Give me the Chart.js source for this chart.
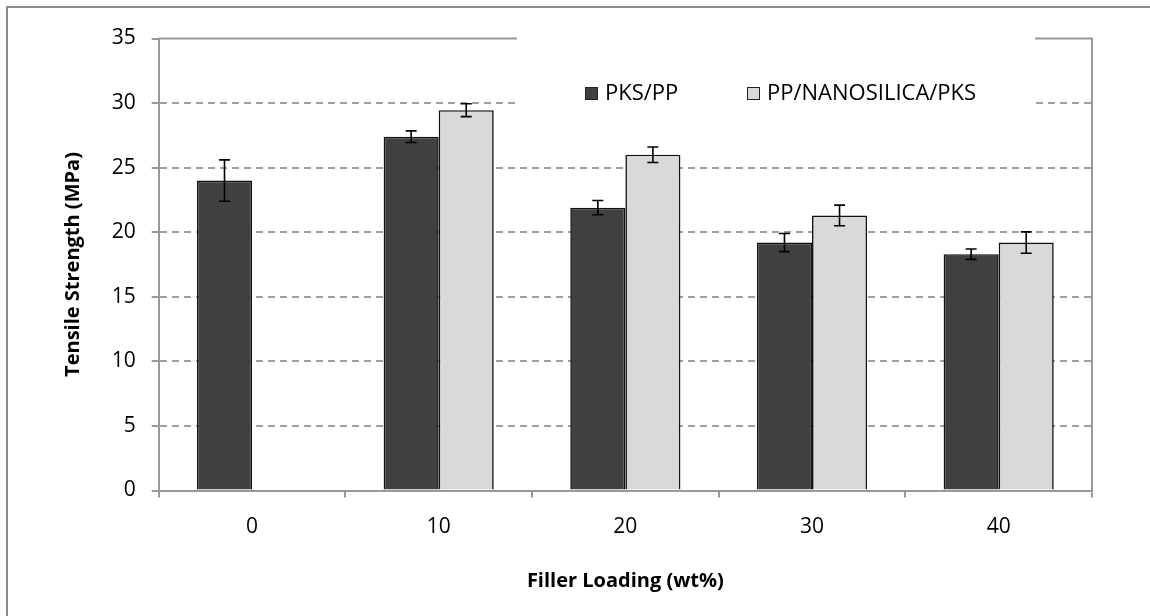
<!DOCTYPE html>
<html>
<head>
<meta charset="utf-8">
<script src="https://cdn.jsdelivr.net/npm/chart.js@4.4.0/dist/chart.umd.min.js"></script>
<style>
  html, body { margin: 0; padding: 0; background: #fff; }
  #wrap { width: 1150px; height: 616px; }
</style>
</head>
<body>
<div id="wrap"><canvas id="chart" width="1150" height="616"></canvas></div>
<script>
// filler loading (wt%)
const categories = ["0", "10", "20", "30", "40"];
// tensile strength (MPa)
const pksPP = [24.0, 27.4, 21.9, 19.2, 18.3];
const pksPPErr = [1.6, 0.45, 0.55, 0.7, 0.4];
const nanoPKS = [null, 29.45, 26.0, 21.3, 19.2];
const nanoPKSErr = [null, 0.5, 0.6, 0.8, 0.83];
const yTicks = [0, 5, 10, 15, 20, 25, 30, 35];

const errors = [pksPPErr, nanoPKSErr];

const frame = {
  id: "frame",
  beforeDraw(chart) {
    const ctx = chart.ctx;
    ctx.save();
    ctx.fillStyle = "#fff";
    ctx.fillRect(0, 0, chart.width, chart.height);
    ctx.strokeStyle = "#8c8c8c";
    ctx.lineWidth = 2;
    ctx.beginPath();
    ctx.moveTo(7, chart.height);
    ctx.lineTo(7, 7);
    ctx.lineTo(chart.width, 7);
    ctx.stroke();
    ctx.restore();
  },
  beforeDatasetsDraw(chart) {
    const ctx = chart.ctx;
    const a = chart.chartArea;
    ctx.save();
    // solid top and right edges of the plot area
    ctx.strokeStyle = "#999";
    ctx.lineWidth = 2;
    ctx.beginPath();
    ctx.moveTo(a.left, a.top);
    ctx.lineTo(a.right, a.top);
    ctx.lineTo(a.right, a.bottom);
    ctx.stroke();

    // legend box
    ctx.fillStyle = "#fff";
    ctx.fillRect(517, 28, 518, 98);
    const items = chart.data.datasets;
    const xs = [585, 747];
    ctx.font = "22px 'Open Sans'";
    ctx.textBaseline = "middle";
    items.forEach((ds, i) => {
      ctx.fillStyle = ds.backgroundColor;
      ctx.fillRect(xs[i], 87, 13, 13);
      ctx.strokeStyle = "#222";
      ctx.lineWidth = 1;
      ctx.strokeRect(xs[i] + 0.5, 87.5, 12, 12);
      ctx.fillStyle = "#000";
      ctx.fillText(ds.label, xs[i] + 20, 94);
    });
    ctx.restore();
  },
  afterDatasetsDraw(chart) {
    const ctx = chart.ctx;
    const y = chart.scales.y;
    ctx.save();
    ctx.strokeStyle = "#000";
    ctx.lineWidth = 1.6;
    chart.data.datasets.forEach((ds, i) => {
      const meta = chart.getDatasetMeta(i);
      meta.data.forEach((bar, j) => {
        const v = ds.data[j];
        const e = errors[i][j];
        if (v == null || e == null) return;
        const top = y.getPixelForValue(v + e);
        const bot = y.getPixelForValue(v - e);
        ctx.beginPath();
        ctx.moveTo(bar.x, top);
        ctx.lineTo(bar.x, bot);
        ctx.moveTo(bar.x - 5.5, top);
        ctx.lineTo(bar.x + 5.5, top);
        ctx.moveTo(bar.x - 5.5, bot);
        ctx.lineTo(bar.x + 5.5, bot);
        ctx.stroke();
      });
    });
    ctx.restore();
  },
};

new Chart(document.getElementById("chart").getContext("2d"), {
  type: "bar",
  data: {
    labels: categories,
    datasets: [
      {
        label: "PKS/PP",
        data: pksPP,
        backgroundColor: "#404040",
        borderColor: "#111",
        borderWidth: 1.6,
      },
      {
        label: "PP/NANOSILICA/PKS",
        data: nanoPKS,
        backgroundColor: "#d9d9d9",
        borderColor: "#111",
        borderWidth: 1.6,
      },
    ],
  },
  options: {
    responsive: false,
    animation: false,
    layout: { padding: { left: 0, top: 38.5, right: 58, bottom: 0 } },
    datasets: { bar: { categoryPercentage: 0.59, barPercentage: 1.0 } },
    plugins: { legend: { display: false }, tooltip: { enabled: false } },
    scales: {
      x: {
        offset: true,
        grid: {
          offset: true,
          drawOnChartArea: false,
          drawTicks: true,
          tickLength: 7,
          color: "#999",
          lineWidth: 2,
        },
        border: { color: "#999", width: 2 },
        ticks: {
          color: "#000",
          padding: 17,
          font: { family: "'Open Sans'", size: 21 },
        },
        title: {
          display: true,
          text: "Filler Loading (wt%)",
          color: "#000",
          font: { family: "'Open Sans'", size: 20, weight: "bold" },
          padding: { top: 0, bottom: 23 },
        },
        afterFit(scale) {
          scale.height = 125.5;
        },
      },
      y: {
        min: 0,
        max: 35,
        afterBuildTicks(scale) {
          scale.ticks = yTicks.map((v) => ({ value: v }));
        },
        grid: {
          color: (c) => (c.tick && c.tick.value === 35 ? "rgba(0,0,0,0)" : "#a0a0a0"),
          tickColor: "#999",
          lineWidth: 2,
          tickLength: 7,
          tickBorderDash: [],
        },
        border: { color: "#999", width: 2, dash: [7, 5] },
        ticks: {
          color: "#000",
          padding: 16,
          font: { family: "'Open Sans'", size: 21 },
        },
        title: {
          display: true,
          text: "Tensile Strength (MPa)",
          color: "#000",
          font: { family: "'Open Sans'", size: 20, weight: "bold" },
          padding: { top: 61, bottom: 0 },
        },
        afterFit(scale) {
          scale.width = 158.7;
        },
      },
    },
  },
  plugins: [frame],
});
</script>
</body>
</html>
